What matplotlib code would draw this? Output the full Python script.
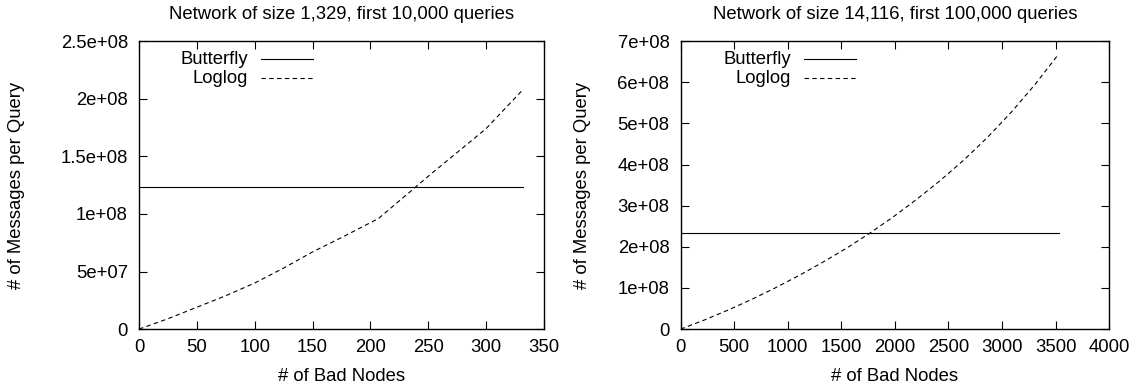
"""
Butterfly vs Loglog message cost under bad nodes (gnuplot-style recreation).
"""
import matplotlib
matplotlib.use("Agg")
import matplotlib.pyplot as plt

plt.rcParams["font.family"] = ["Liberation Sans", "DejaVu Sans"]
plt.rcParams["font.size"] = 13.3

# left panel: network of 1,329 nodes
small_bad = [0, 25, 50, 75, 100, 125, 150, 178, 207, 254, 300, 332]
small_loglog = [0, 0.09e8, 0.19e8, 0.29e8, 0.40e8, 0.53e8, 0.67e8, 0.81e8,
                0.96e8, 1.36e8, 1.74e8, 2.08e8]
small_butterfly = [1.235e8, 1.235e8]
small_butterfly_x = [0, 332]
small_xticks = [0, 50, 100, 150, 200, 250, 300, 350]
small_yticks = [0, 5e7, 1e8, 1.5e8, 2e8, 2.5e8]
small_ylabels = ["0", "5e+07", "1e+08", "1.5e+08", "2e+08", "2.5e+08"]

# right panel: network of 14,116 nodes
big_bad = [0, 221, 441, 662, 882, 1103, 1323, 1544, 1764, 1985, 2206, 2426,
           2647, 2867, 3088, 3308, 3529]
big_loglog = [0, 0.22e8, 0.46e8, 0.72e8, 1.00e8, 1.30e8, 1.62e8, 1.96e8,
              2.33e8, 2.73e8, 3.16e8, 3.62e8, 4.12e8, 4.67e8, 5.28e8, 5.95e8,
              6.69e8]
big_butterfly = [2.34e8, 2.34e8]
big_butterfly_x = [0, 3529]
big_xticks = [0, 500, 1000, 1500, 2000, 2500, 3000, 3500, 4000]
big_yticks = [0, 1e8, 2e8, 3e8, 4e8, 5e8, 6e8, 7e8]
big_ylabels = ["0", "1e+08", "2e+08", "3e+08", "4e+08", "5e+08", "6e+08", "7e+08"]

DASH = (0, (4, 3))
LW = 0.8


def gnuplot_key(ax, text_x, line_x0, line_x1):
    rows = [("Butterfly", "-", 0.9375), ("Loglog", DASH, 0.871)]
    for label, style, y in rows:
        ax.text(text_x, y, label, transform=ax.transAxes, ha="right", va="center")
        ax.plot([line_x0, line_x1], [y, y], transform=ax.transAxes,
                color="black", lw=LW, linestyle=style)


def panel(ax, title, xb, yb, xl, yl, xticks, yticks, ylabels, key_pos, ylab_x):
    ax.plot(xb, yb, color="black", lw=LW, linestyle="-")
    ax.plot(xl, yl, color="black", lw=LW, linestyle=DASH)
    ax.set_xlim(xticks[0], xticks[-1])
    ax.set_ylim(yticks[0], yticks[-1])
    ax.set_xticks(xticks)
    ax.set_yticks(yticks)
    ax.set_yticklabels(ylabels)
    ax.tick_params(direction="in", length=6, width=0.8, top=True, right=True)
    ax.tick_params(axis="x", pad=7)
    ax.tick_params(axis="y", pad=8)
    for s in ax.spines.values():
        s.set_linewidth(1.0)
    ax.set_title(title, fontsize=13.3, pad=16)
    ax.set_xlabel("# of Bad Nodes", labelpad=9)
    ax.set_ylabel("# of Messages per Query")
    ax.yaxis.set_label_coords(ylab_x, 0.5)
    gnuplot_key(ax, *key_pos)


fig = plt.figure(figsize=(11.4, 3.89), dpi=100)
ax1 = fig.add_axes([0.122, 0.154, 0.355, 0.740])
ax2 = fig.add_axes([0.597, 0.154, 0.376, 0.740])

panel(ax1, "Network of size 1,329, first 10,000 queries",
      small_butterfly_x, small_butterfly, small_bad, small_loglog,
      small_xticks, small_yticks, small_ylabels, (0.269, 0.301, 0.43), -0.281)
panel(ax2, "Network of size 14,116, first 100,000 queries",
      big_butterfly_x, big_butterfly, big_bad, big_loglog,
      big_xticks, big_yticks, big_ylabels, (0.257, 0.287, 0.409), -0.208)

fig.savefig("out.png", dpi=100)
